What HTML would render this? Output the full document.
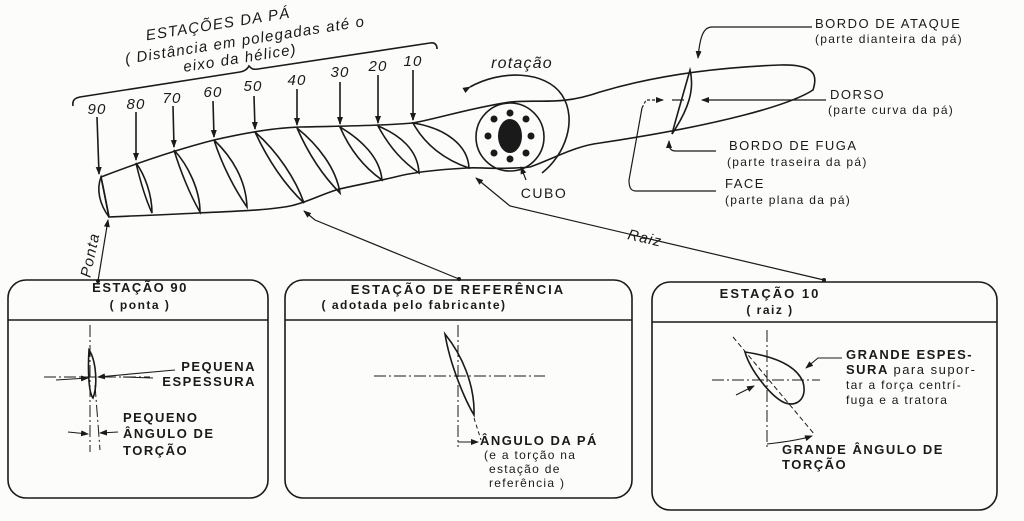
<!DOCTYPE html>
<html><head><meta charset="utf-8"><style>
html,body{margin:0;padding:0;background:#fcfcfa;}
svg{display:block}
text{font-family:"Liberation Sans",sans-serif;fill:#1a1a1a;font-weight:bold;}
.t{font-size:13px;letter-spacing:1.5px}
.s{font-size:12px;letter-spacing:1.3px;font-weight:normal}
.i{font-style:italic;font-size:14px;font-weight:normal;letter-spacing:1.2px}
</style></head><body>
<svg width="1024" height="521" viewBox="0 0 1024 521" xmlns="http://www.w3.org/2000/svg">
<defs><marker id="a" markerWidth="8" markerHeight="8" refX="7" refY="3" orient="auto" markerUnits="userSpaceOnUse"><path d="M0,0 L8,3 L0,6 Z" fill="#1a1a1a"/></marker></defs>
<g fill="none" stroke="#1a1a1a" stroke-width="1.6">
<path d="M101,177 C140,162 175,150 214,140 C240,134 270,128 300,127 C340,126 380,126 413,123 C440,118 470,108 510,102 C540,99 560,106 600,92 C640,80 700,68 780,65 C815,64 818,75 813,90 C790,105 720,125 600,143 C575,146 555,158 530,167 C500,170 480,167 467,168 C430,170 410,173 395,177 C370,183 350,186 336,190 C315,197 305,203 290,206 C270,210 240,211 198,213 C160,215 130,216 109,217 Z"/>
<path d="M101,177 C96,190 100,205 109,217 C106,202 104,190 101,177Z"/>
<path d="M136,163 C140,180 146,200 152,213 C152,195 145,175 136,163Z"/>
<path d="M174,150 C180,170 190,195 200,212 C200,190 188,165 174,150Z"/>
<path d="M214,140 C222,165 235,190 247,207 C246,180 232,157 214,140Z"/>
<path d="M255,132 C268,160 285,185 304,203 C296,180 278,152 255,132Z"/>
<path d="M297,128 C308,153 322,175 340,193 C336,168 318,145 297,128Z"/>
<path d="M340,127 C350,150 365,168 382,180 C380,158 362,140 340,127Z"/>
<path d="M378,126 C390,148 403,162 419,173 C418,150 400,135 378,126Z"/>
<path d="M413,123 C425,145 445,160 469,168 C468,145 445,128 413,123Z"/>
<path d="M690,70 C683,95 677,115 672,134 C688,110 695,90 690,70Z"/>
<circle cx="510" cy="137" r="34"/>
<path d="M470,87 C500,70 545,70 562,95 C578,120 565,155 542,173" marker-start="url(#a)"/>
<path d="M73,106 C72,100 75,98 80,97 L240,72 C246,71 248,68 249,66 C251,68 252,70 258,69 L430,43 C435,42 437,45 437,49"/>
<path d="M97,117 L99,174" marker-end="url(#a)"/>
<path d="M136,112 L136,160" marker-end="url(#a)"/>
<path d="M173,106 L174,147" marker-end="url(#a)"/>
<path d="M213,101 L214,137" marker-end="url(#a)"/>
<path d="M254,96 L255,129" marker-end="url(#a)"/>
<path d="M297,89 L297,125" marker-end="url(#a)"/>
<path d="M340,82 L340,124" marker-end="url(#a)"/>
<path d="M378,75 L378,123" marker-end="url(#a)"/>
<path d="M413,70 L413,120" marker-end="url(#a)"/>
<path d="M526,180 L521,167" marker-end="url(#a)" stroke-width="1.2"/>
<path d="M98,281 L108,220" marker-end="url(#a)" stroke-width="1.2"/>
<path d="M459,279 L315,220 L304,211" marker-end="url(#a)" stroke-width="1.2"/>
<path d="M824,280 L510,206 L476,178" marker-end="url(#a)" stroke-width="1.2"/>
<path d="M812,27 L712,27 C704,27 700,35 698,58" marker-end="url(#a)" stroke-width="1.2"/>
<path d="M826,100 L702,100" marker-end="url(#a)" stroke-width="1.2"/>
<path d="M684,100 L672,100" stroke-width="1.2"/>
<path d="M716,151 L676,151 C670,151 669,148 669,141" marker-end="url(#a)" stroke-width="1.2"/>
<path d="M716,191 L636,191 C630,191 629,186 629,180 L642,108" stroke-width="1.2"/>
<path d="M642,108 L646,100 L663,100" stroke-width="1.2" stroke-dasharray="3,2" marker-end="url(#a)"/>
<rect x="8" y="280" width="260" height="218" rx="18"/>
<line x1="8" y1="320" x2="268" y2="320"/>
<rect x="285" y="280" width="347" height="218" rx="18"/>
<line x1="285" y1="320" x2="632" y2="320"/>
<rect x="652" y="282" width="345" height="228" rx="18"/>
<line x1="652" y1="322" x2="997" y2="322"/>
<g stroke-width="1" stroke-dasharray="12,3,2,3">
<line x1="90" y1="325" x2="90" y2="452"/><line x1="44" y1="377" x2="150" y2="377"/>
<line x1="95" y1="385" x2="100" y2="450"/>
<line x1="458" y1="325" x2="458" y2="447"/><line x1="374" y1="376" x2="545" y2="376"/>
<line x1="767" y1="330" x2="767" y2="448"/><line x1="712" y1="380" x2="820" y2="380"/>
</g>
<line x1="733" y1="337" x2="815" y2="435" stroke-width="1" stroke-dasharray="5,3"/>
<line x1="474" y1="418" x2="481" y2="440" stroke-width="1" stroke-dasharray="4,3"/>
<path d="M89,350 C96,360 98,385 93,398 C88,392 88,365 89,350Z"/>
<path d="M445,334 C462,355 475,385 474,415 C465,400 450,365 445,334Z"/>
<path d="M745,352 C765,355 795,362 803,382 C808,400 795,408 783,402 C770,395 750,370 745,352Z"/>
<g stroke-width="1.1">
<path d="M56,380 L88,378" marker-end="url(#a)"/>
<path d="M175,370 L98,377" marker-end="url(#a)"/>
<path d="M123,377 L153,378"/>
<path d="M68,432 L88,434" marker-end="url(#a)"/>
<path d="M118,432 L100,433" marker-end="url(#a)"/>
<path d="M458,442 L478,442" marker-end="url(#a)"/>
<path d="M842,358 L818,358 L806,368" marker-end="url(#a)"/>
<path d="M736,395 L754,386" marker-end="url(#a)"/>
<path d="M767,444 C785,442 800,440 812,436" marker-end="url(#a)"/>
</g>
</g>
<g fill="#1a1a1a">
<ellipse cx="510" cy="136" rx="12" ry="17"/>
<circle cx="510" cy="113" r="3.5"/><circle cx="526" cy="119" r="3.5"/><circle cx="531" cy="136" r="3.5"/><circle cx="526" cy="153" r="3.5"/>
<circle cx="510" cy="159" r="3.5"/><circle cx="494" cy="153" r="3.5"/><circle cx="488" cy="136" r="3.5"/><circle cx="494" cy="119" r="3.5"/>
<circle cx="98" cy="281" r="2"/><circle cx="459" cy="279" r="2"/><circle cx="824" cy="280" r="2"/>
</g>
<g transform="rotate(-9 218 24)"><text x="218" y="29" class="i" text-anchor="middle" style="font-size:15px">ESTAÇÕES DA PÁ</text></g>
<g transform="rotate(-9 245 40)"><text x="245" y="45" class="i" text-anchor="middle" style="font-size:15px">( Distância em polegadas até o</text></g>
<g transform="rotate(-9 240 58)"><text x="240" y="63" class="i" text-anchor="middle" style="font-size:15px">eixo da hélice)</text></g>
<g text-anchor="middle">
<text x="97" y="114" class="i" style="font-size:15px">90</text><text x="136" y="109" class="i" style="font-size:15px">80</text><text x="172" y="103" class="i" style="font-size:15px">70</text>
<text x="213" y="97" class="i" style="font-size:15px">60</text><text x="253" y="91" class="i" style="font-size:15px">50</text><text x="297" y="85" class="i" style="font-size:15px">40</text>
<text x="340" y="77" class="i" style="font-size:15px">30</text><text x="378" y="71" class="i" style="font-size:15px">20</text><text x="413" y="66" class="i" style="font-size:15px">10</text>
</g>
<text x="522" y="68" class="i" text-anchor="middle" style="font-size:16px">rotação</text>
<text x="544" y="198" class="t" text-anchor="middle" style="font-weight:normal;font-size:14px">CUBO</text>
<g transform="rotate(-78 90 255)"><text x="90" y="260" class="i" text-anchor="middle" style="font-size:15px">Ponta</text></g>
<g transform="rotate(13 645 238)"><text x="645" y="243" class="i" text-anchor="middle" style="font-size:15px">Raiz</text></g>
<text x="815" y="28" class="t" style="font-weight:normal">BORDO DE ATAQUE</text>
<text x="815" y="43" class="s">(parte dianteira da pá)</text>
<text x="830" y="99" class="t" style="font-weight:normal">DORSO</text>
<text x="828" y="114" class="s">(parte curva da pá)</text>
<text x="729" y="150" class="t" style="font-weight:normal">BORDO DE FUGA</text>
<text x="727" y="166" class="s">(parte traseira da pá)</text>
<text x="725" y="188" class="t" style="font-weight:normal">FACE</text>
<text x="725" y="204" class="s">(parte plana da pá)</text>
<text x="140" y="292" class="t" text-anchor="middle">ESTAÇÃO 90</text>
<text x="140" y="309" class="t" text-anchor="middle" style="font-size:12px">( ponta )</text>
<text x="256" y="371" class="t" text-anchor="end">PEQUENA</text>
<text x="256" y="386" class="t" text-anchor="end">ESPESSURA</text>
<text x="123" y="422" class="t">PEQUENO</text>
<text x="123" y="438" class="t">ÂNGULO DE</text>
<text x="123" y="455" class="t">TORÇÃO</text>
<text x="458" y="294" class="t" text-anchor="middle" style="letter-spacing:2px">ESTAÇÃO  DE  REFERÊNCIA</text>
<text x="414" y="309" class="t" text-anchor="middle" style="font-size:12px">( adotada pelo fabricante)</text>
<text x="480" y="445" class="t">ÂNGULO DA PÁ</text>
<text x="484" y="459" class="s">(e a torção na</text>
<text x="489" y="473" class="s">estação de</text>
<text x="489" y="487" class="s">referência )</text>
<text x="770" y="298" class="t" text-anchor="middle" style="letter-spacing:2px">ESTAÇÃO  10</text>
<text x="770" y="314" class="t" text-anchor="middle" style="font-size:12px">( raiz )</text>
<text x="846" y="359" class="t">GRANDE ESPES-</text>
<text x="846" y="374" class="t">SURA <tspan style="font-weight:normal">para supor-</tspan></text>
<text x="846" y="389" class="s">tar a força centrí-</text>
<text x="846" y="404" class="s">fuga e a tratora</text>
<text x="782" y="454" class="t">GRANDE ÂNGULO DE</text>
<text x="782" y="469" class="t">TORÇÃO</text>
</svg>
</body></html>
